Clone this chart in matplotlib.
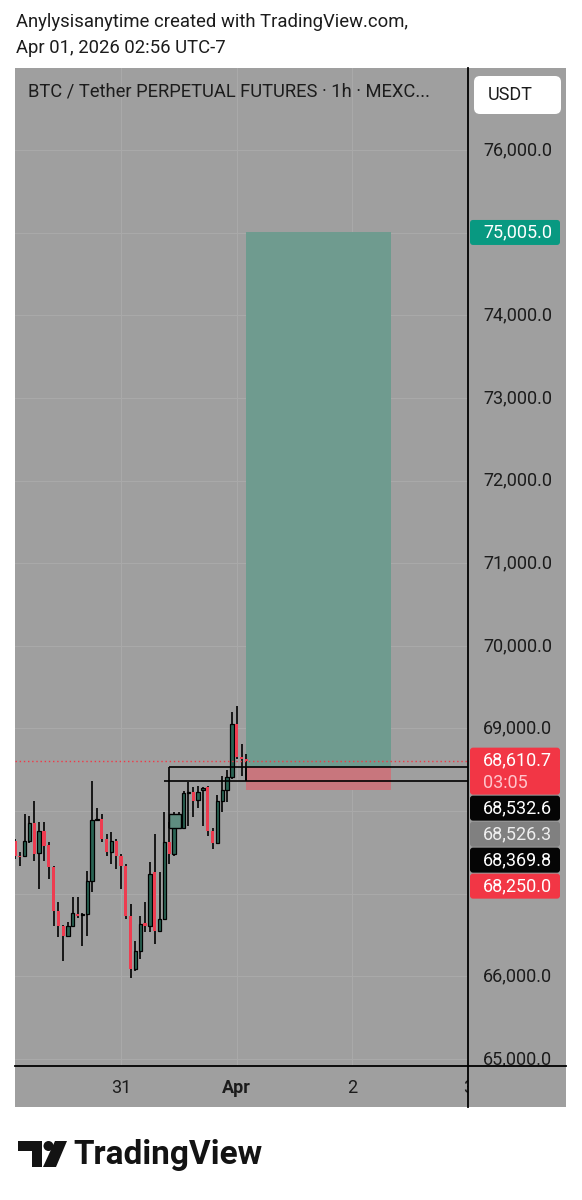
import matplotlib
matplotlib.use('Agg')
import matplotlib.pyplot as plt
import matplotlib.dates as mdates
import numpy as np
import pandas as pd
from matplotlib.patches import Rectangle, FancyBboxPatch, Polygon, Circle

plt.rcParams['font.family'] = ['Roboto', 'DejaVu Sans']

# ---------------- data ----------------
start_time = '2026-03-30 02:00'
opens = [67640, 67460, 67456, 67637, 67854, 67492, 67758, 67589, 67323, 66792,
         66612, 66491, 66612, 66756, 66740, 66750, 67154, 67890, 67902, 67661,
         67504, 67637, 67456, 67335, 66732, 66093, 66310, 66640, 66612, 67263,
         66551, 66696, 67625, 67480, 67902, 67794, 68216, 68228, 68131, 68252,
         68288, 67760, 67613, 68119, 68252, 68409, 69060, 68650, 68626]
highs = [67660, 67500, 67963, 67940, 68119, 67866, 67866, 67625, 67335, 66900,
         66620, 66660, 66960, 66960, 66770, 67280, 68361, 68040, 67963, 67721,
         67745, 67661, 67480, 67360, 66877, 66430, 66732, 66900, 67380, 67721,
         67263, 67987, 67866, 67987, 67990, 68240, 68349, 68288, 68300, 68288,
         68300, 67790, 68200, 68421, 68500, 69205, 69277, 68807, 68686]
lows = [67420, 67335, 67440, 67610, 67396, 67058, 67396, 67180, 66612, 66480,
        66189, 66480, 66600, 66700, 66370, 66490, 67022, 67880, 67625, 67456,
        67360, 67300, 67058, 66696, 65980, 66070, 66210, 66540, 66540, 66394,
        66540, 66680, 67360, 67460, 67780, 67780, 67818, 67930, 68040, 67818,
        67700, 67540, 67600, 67987, 68110, 68385, 68626, 68421, 68361]
closes = [67460, 67440, 67637, 67854, 67480, 67758, 67577, 67323, 66792, 66612,
          66491, 66612, 66768, 66732, 66750, 67154, 67890, 67900, 67661, 67504,
          67637, 67456, 67335, 66732, 66093, 66310, 66636, 66612, 67239, 66551,
          66696, 67625, 67480, 67902, 67800, 68216, 68228, 68119, 68228, 68276,
          67760, 67613, 68119, 68252, 68409, 69060, 68650, 68626, 68610.7]

price_ticks = [65000, 66000, 67000, 68000, 69000, 70000, 71000, 72000, 73000, 74000, 75000, 76000]
day_ticks = ['2026-03-31', '2026-04-01', '2026-04-02', '2026-04-03']
day_labels = ['31', 'Apr', '2', '3']

target_price = 75005.0
entry_price = 68532.6
stop_price = 68250.0
last_price = 68610.7
level_gray = 68526.3
level_black = 68369.8
countdown = '03:05'
pos_start = '2026-04-01 02:00'
pos_end = '2026-04-02 08:00'
line_start_a = '2026-03-31 10:00'
line_start_b = '2026-03-31 08:54'
box_end = '2026-03-31 12:24'
box_low = 67795
box_high = 67965

title = 'BTC / Tether PERPETUAL FUTURES · 1h · MEXC...'
header1 = 'Anylysisanytime created with TradingView.com,'
header2 = 'Apr 01, 2026 02:56 UTC-7'

# ---------------- colors ----------------
BG = '#9f9f9f'
GRID = '#a9a9a9'
UP = '#2a6454'
DOWN = '#ee3c50'
TEAL_BOX = '#6f9b8f'
RED_BOX = '#c8767d'
TXT = '#1c1c1c'
FS = 13

W, H = 582, 1200
TOP, AXB, BOT, LEFT, PR, RIGHT = 68, 1066, 1107, 15, 468, 566
fig = plt.figure(figsize=(W / 100, H / 100), dpi=100, facecolor='white')


def rect(l, t, r, b):
    return [l / W, 1 - b / H, (r - l) / W, (b - t) / H]


# background layer (pixel coordinates)
bgax = fig.add_axes([0, 0, 1, 1], zorder=0)
bgax.set_xlim(0, W)
bgax.set_ylim(H, 0)
bgax.axis('off')
bgax.add_patch(Rectangle((LEFT, TOP), RIGHT - LEFT, BOT - TOP, facecolor=BG, edgecolor='none'))
bgax.text(16, 22, header1, fontsize=13.3, color=TXT, va='center', ha='left')
bgax.text(16, 48, header2, fontsize=13.3, color=TXT, va='center', ha='left')

# TradingView logo
bgax.add_patch(Polygon([(18, 1141), (42, 1141), (42, 1167), (32, 1167), (32, 1151), (18, 1151)],
                       closed=True, facecolor='#131313', edgecolor='none'))
bgax.add_patch(Circle((48.5, 1146), 5, facecolor='#131313', edgecolor='none'))
bgax.add_patch(Polygon([(55, 1141), (67, 1141), (56, 1167), (43, 1167)],
                       closed=True, facecolor='#131313', edgecolor='none'))
bgax.text(73, 1155, 'TradingView', fontsize=24, fontweight='bold', color='#131313',
          va='center', ha='left')

# main chart axes
ax = fig.add_axes(rect(LEFT, TOP, PR, AXB), zorder=1)
ax.set_facecolor('none')
for s in ax.spines.values():
    s.set_visible(False)
ax.set_xticks([])
ax.set_yticks([])

times = pd.date_range(start_time, periods=len(opens), freq='h')
x = mdates.date2num(times)
xmin = mdates.date2num(pd.Timestamp(start_time))
xmax = mdates.date2num(pd.Timestamp(day_ticks[-1]))
ax.set_xlim(xmin, xmax)
ax.set_ylim(64914, 76996)

# grid
for p in price_ticks:
    ax.axhline(p, color=GRID, lw=0.8, zorder=0)
for d in day_ticks:
    ax.axvline(mdates.date2num(pd.Timestamp(d)), color=GRID, lw=0.8, zorder=0)

hour = 1 / 24
# position boxes
px0 = mdates.date2num(pd.Timestamp(pos_start))
px1 = mdates.date2num(pd.Timestamp(pos_end))
ax.add_patch(Rectangle((px0, entry_price), px1 - px0, target_price - entry_price,
                       facecolor=TEAL_BOX, edgecolor='none', zorder=1))
ax.add_patch(Rectangle((px0, stop_price), px1 - px0, entry_price - stop_price,
                       facecolor=RED_BOX, edgecolor='none', zorder=1))

# candles
o = np.array(opens); h = np.array(highs); l = np.array(lows); c = np.array(closes)
up = c >= o
ax.vlines(x, l, h, color='black', lw=1.2, zorder=2)
body_lo = np.minimum(o, c)
body_h = np.maximum(np.abs(c - o), 12)
ax.bar(x[up], body_h[up], bottom=body_lo[up], width=0.68 * hour, color=UP,
       edgecolor='black', linewidth=0.9, zorder=3)
ax.bar(x[~up], body_h[~up], bottom=body_lo[~up], width=0.68 * hour, color=DOWN,
       edgecolor='none', linewidth=0, zorder=3)

# drawings
xa = mdates.date2num(pd.Timestamp(line_start_a))
xb = mdates.date2num(pd.Timestamp(line_start_b))
xe = mdates.date2num(pd.Timestamp(box_end))
ax.add_patch(Rectangle((xa, box_low), xe - xa, box_high - box_low, facecolor='#5f8d80',
                       edgecolor='black', lw=1.0, zorder=4))
ax.hlines(entry_price, xa, xmax, color='black', lw=1.2, zorder=4)
ax.vlines(xa, box_low, entry_price, color='black', lw=1.2, zorder=4)
ax.hlines(level_black, xb, xmax, color='black', lw=1.2, zorder=4)
ax.vlines(px0, level_black, entry_price, color='black', lw=1.2, zorder=4)
ax.axhline(last_price, color='#f23645', lw=1.0, ls=(0, (1, 2)), zorder=5)

# time-axis strip
axt = fig.add_axes(rect(LEFT, AXB, PR, BOT), zorder=1)
axt.set_facecolor('none')
axt.axis('off')
axt.set_xlim(xmin, xmax)
axt.set_ylim(0, 1)
for d, lab in zip(day_ticks, day_labels):
    axt.text(mdates.date2num(pd.Timestamp(d)), 0.47, lab, ha='center', va='center',
             fontsize=FS, color=TXT, fontweight='bold' if lab == 'Apr' else 'normal',
             clip_on=True)

# overlay (pixel coordinates)
ov = fig.add_axes([0, 0, 1, 1], zorder=3)
ov.set_xlim(0, W)
ov.set_ylim(H, 0)
ov.axis('off')


def p2px(p):
    return H - ax.transData.transform((xmin, p))[1]


# label stack positions
yt = p2px(target_price)
yc = p2px(last_price)
stack_top = yc - 13
stack_bottom = stack_top + 48 + 4 * 26

# price scale
axr = fig.add_axes(rect(PR, TOP, RIGHT, AXB), zorder=2)
axr.set_facecolor('none')
axr.axis('off')
axr.set_ylim(ax.get_ylim())
axr.set_xlim(0, 1)
for p in price_ticks:
    yp = p2px(p)
    if abs(yp - yt) < 22 or (stack_top - 8 < yp < stack_bottom + 6):
        continue  # hidden behind a price label
    axr.text(15 / 98, p, f'{p:,.1f}', ha='left', va='center', fontsize=FS, color=TXT,
             clip_on=True)

ov.plot([PR, PR], [TOP, BOT], color='black', lw=1.3)
ov.plot([LEFT, RIGHT], [AXB, AXB], color='black', lw=1.3)

ov.text(28, 91, title, fontsize=13.2, color=TXT, va='center', ha='left')
ov.add_patch(FancyBboxPatch((474, 76), 87, 38, boxstyle='round,pad=0,rounding_size=6',
                            facecolor='white', edgecolor='none'))
ov.text(488, 95, 'USDT', fontsize=FS, color=TXT, va='center', ha='left')


def label(top, height, text, fc, tc='white'):
    ov.add_patch(FancyBboxPatch((470, top), 90, height, boxstyle='round,pad=0,rounding_size=3',
                                facecolor=fc, edgecolor='none'))
    ov.text(483, top + height / 2, text, fontsize=FS, color=tc, va='center', ha='left')


label(yt - 12.5, 25, f'{target_price:,.1f}', '#089981')

ov.add_patch(FancyBboxPatch((470, stack_top), 90, 47, boxstyle='round,pad=0,rounding_size=3',
                            facecolor='#f23645', edgecolor='none'))
ov.text(483, yc, f'{last_price:,.1f}', fontsize=FS, color='white', va='center', ha='left')
ov.text(483, yc + 22, countdown, fontsize=FS, color='#ffc4cb', va='center', ha='left')
stack = stack_top + 48
for val, fc, tc in [(entry_price, '#050505', 'white'), (level_gray, '#808080', '#eeeeee'),
                    (level_black, '#050505', 'white'), (stop_price, '#f23645', 'white')]:
    label(stack, 25, f'{val:,.1f}', fc, tc)
    stack += 26

fig.savefig('out.png', dpi=100, facecolor='white')
